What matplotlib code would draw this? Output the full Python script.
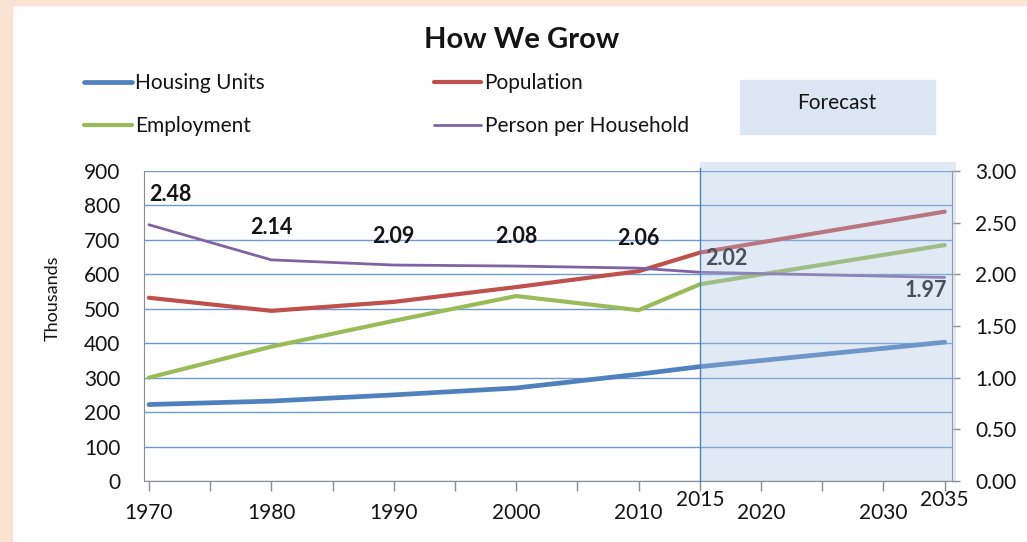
import matplotlib
matplotlib.use('Agg')
import matplotlib.pyplot as plt
from matplotlib.patches import Rectangle

plt.rcParams['font.family'] = ['Lato', 'DejaVu Sans']
plt.rcParams['text.color'] = '#141414'
plt.rcParams['xtick.color'] = '#141414'
plt.rcParams['ytick.color'] = '#141414'

# data (thousands, persons per household on right axis)
years = [1970, 1980, 1990, 2000, 2010, 2015, 2035]
housing = [222, 232, 250, 270, 310, 332, 403]
population = [532, 494, 520, 563, 609, 663, 782]
employment = [300, 390, 465, 537, 496, 571, 685]
pph = [2.48, 2.14, 2.09, 2.08, 2.06, 2.02, 1.97]

label_years = [1970, 1980, 1990, 2000, 2010, 2020, 2030]
raised_years = [2015, 2035]
forecast_start = 2015

W, H = 1027, 542
fig = plt.figure(figsize=(W / 100, H / 100), dpi=100)
fig.patch.set_facecolor('white')

# peach frame on top and left
peach = '#FBE3D4'
fig.patches.append(Rectangle((0, 1 - 5 / H), 1, 5 / H, transform=fig.transFigure, color=peach, zorder=0))
fig.patches.append(Rectangle((0, 0), 12 / W, 1, transform=fig.transFigure, color=peach, zorder=0))

ax = fig.add_axes([144 / W, 1 - 481 / H, (952 - 144) / W, (481 - 171) / H])
ax2 = ax.twinx()

gray = '#8C8C8C'
ln_h, = ax.plot(years, housing, color='#4F81BD', lw=3.4, solid_capstyle='round', label='Housing Units')
ln_p, = ax.plot(years, population, color='#C0504D', lw=3.0, solid_capstyle='round', label='Population')
ln_e, = ax.plot(years, employment, color='#9BBB59', lw=3.0, solid_capstyle='round', label='Employment')
ln_pph, = ax2.plot(years, pph, color='#8064A2', lw=2.0, solid_capstyle='round', label='Person per Household')

ax.set_xlim(1969.6, 2035.6)
ax.set_ylim(0, 900)
ax2.set_ylim(0, 3)
ax.set_yticks(range(0, 901, 100))
ax2.set_yticks([0, 0.5, 1, 1.5, 2, 2.5, 3])
ax2.set_yticklabels(['%.2f' % v for v in [0, 0.5, 1, 1.5, 2, 2.5, 3]])

ticks = list(range(1970, 2036, 5))
ax.set_xticks(ticks)
ax.set_xticklabels([str(t) if t in label_years else '' for t in ticks])
for y in raised_years:
    ax.text(y, -0.062, str(y), transform=ax.get_xaxis_transform(), ha='center', va='center', fontsize=15)

ax.yaxis.grid(True, color='#6F9BD1', lw=1)
ax.set_axisbelow(True)
for a in (ax, ax2):
    a.spines['top'].set_visible(False)
    for s in ('left', 'bottom', 'right'):
        a.spines[s].set_color(gray)
ax.spines['right'].set_visible(False)
ax2.spines['left'].set_visible(False)
ax2.spines['bottom'].set_visible(False)

ax.tick_params(axis='x', direction='out', length=7, width=1, color=gray, pad=9, labelsize=15)
ax.tick_params(axis='y', length=0, pad=17, labelsize=15)
ax2.tick_params(axis='y', direction='out', length=6, width=1, color=gray, pad=10.5, labelsize=15)

# data labels for persons per household
offsets = [(21, 30), (0, 32), (0, 29), (0, 30), (0, 30), (27, 14), (-19, -13)]
for x, v, (dx, dy) in zip(years, pph, offsets):
    ax2.annotate('%.2f' % v, (x, v), xytext=(dx, dy), textcoords='offset pixels',
                 ha='center', va='center', fontsize=15.5, fontweight='bold', zorder=4)

# forecast shading over the plot
ax2.axvspan(forecast_start, 2035.95, ymin=0, ymax=1.029, color='#A9C2E0', alpha=0.35,
            lw=0, zorder=5, clip_on=False)
ax2.axvline(forecast_start, ymin=0, ymax=1.01, color='#4F81BD', lw=1, zorder=6, clip_on=False)

fig.text(53 / W, 1 - 298 / H, 'Thousands', rotation=90, ha='center', va='center', fontsize=13)
fig.text(522 / W, 1 - 40 / H, 'How We Grow', ha='center', va='center', fontsize=21, fontweight='bold')

fig.legend(handles=[ln_h, ln_e, ln_p, ln_pph], ncol=2, loc='upper left',
           bbox_to_anchor=(84 / W, 1 - 73 / H), frameon=False, fontsize=15,
           handlelength=2.3, handletextpad=0.15, columnspacing=8.1, labelspacing=1.1,
           borderpad=0, borderaxespad=0)

fig.patches.append(Rectangle((740 / W, 1 - 134 / H), 195 / W, 54 / H, transform=fig.transFigure,
                             color='#DCE6F2', zorder=0))
fig.text(837 / W, 1 - 103 / H, 'Forecast', ha='center', va='center', fontsize=15)

fig.savefig('out.png', dpi=100)
